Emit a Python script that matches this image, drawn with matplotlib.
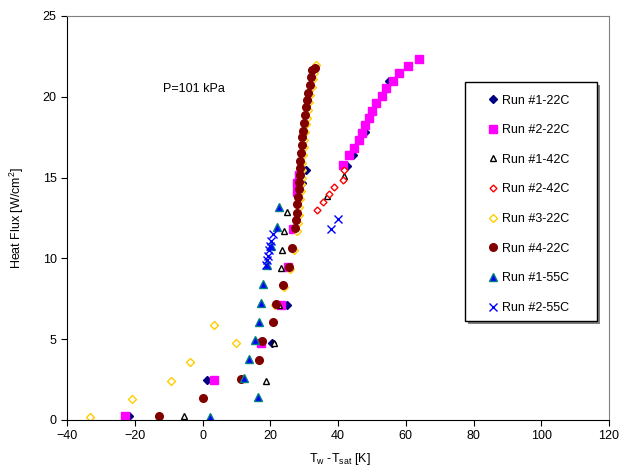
import matplotlib
matplotlib.use("Agg")
from matplotlib import pyplot as plt
from matplotlib.patches import Rectangle

plt.rcParams["font.family"] = ["Liberation Sans", "DejaVu Sans"]
plt.rcParams["mathtext.default"] = "regular"

# Run #1-22C
r1_22_x = [-21.6, 1.3, 20.4, 24.8, 29.3, 30.5, 42.8, 44.3, 48.1, 55.1]
r1_22_y = [0.25, 2.47, 4.78, 7.13, 14.65, 15.5, 15.7, 16.38, 17.8, 21.0]

# Run #2-22C
r2_22_x = [-22.9, 3.5, 17.3, 23.2, 25.3, 26.6, 27.8, 28.0, 28.6,
           41.5, 43.2, 44.7, 46.3, 47.1, 47.9, 49.2, 50.1, 51.2, 52.9,
           54.1, 56.1, 57.9, 60.6, 63.9]
r2_22_y = [0.25, 2.47, 4.78, 7.13, 9.49, 11.8, 14.13, 14.65, 15.16,
           15.75, 16.37, 16.81, 17.33, 17.79, 18.24, 18.67, 19.15, 19.62, 20.07,
           20.53, 21.0, 21.45, 21.92, 22.32]

# Run #1-42C
r1_42_x = [-5.4, 18.7, 21.2, 22.5, 23.2, 23.5, 24.2, 24.9, 36.8, 41.7]
r1_42_y = [0.25, 2.43, 4.78, 7.13, 9.39, 10.52, 11.71, 12.85, 13.86, 15.08]

# Run #2-42C
r2_42_x = [33.8, 35.5, 37.3, 38.8, 41.4, 41.7]
r2_42_y = [13.0, 13.47, 13.96, 14.4, 14.85, 15.44]

# Run #3-22C
r3_22_x = [-33.1, -20.8, -9.3, -3.7, 9.9, 3.5, 21.4, 24.0,
           25.9, 26.9, 27.9, 28.1, 28.4, 28.6, 28.9, 29.1, 29.2, 29.4,
           29.4, 29.5, 29.7, 29.9, 30.0, 30.2, 30.5, 30.8, 31.1, 31.5,
           31.8, 32.2, 32.7, 33.0, 33.6]
r3_22_y = [0.2, 1.3, 2.43, 3.59, 4.75, 5.9, 7.1, 8.25,
           9.35, 10.5, 11.7, 12.2, 12.7, 13.2, 13.7, 14.2, 14.6, 15.0,
           15.5, 15.9, 16.4, 16.9, 17.3, 17.8, 18.3, 18.7, 19.2, 19.7,
           20.1, 20.6, 21.1, 21.5, 21.97]

# Run #4-22C
r4_22_x = [-12.7, 0.2, 11.3, 16.6, 17.6, 20.7, 21.8, 23.7, 25.5, 26.5,
           27.4, 27.5, 27.8, 28.0, 28.3, 28.5, 28.6, 28.8, 28.8, 28.8,
           29.1, 29.3, 29.4, 29.6, 29.9, 30.2, 30.5, 30.9, 31.2, 31.6,
           32.1, 32.4, 33.2]
r4_22_y = [0.25, 1.38, 2.56, 3.73, 4.91, 6.08, 7.2, 8.35, 9.49, 10.66,
           11.88, 12.36, 12.83, 13.35, 13.82, 14.3, 14.75, 15.16, 15.62, 16.05,
           16.54, 17.0, 17.5, 17.9, 18.4, 18.89, 19.35, 19.8, 20.25, 20.75,
           21.24, 21.66, 21.8]

# Run #1-55C
r1_55_x = [2.2, 16.3, 12.2, 13.8, 15.5, 16.7, 17.3, 17.8, 19.1, 20.1, 21.9, 22.7]
r1_55_y = [0.2, 1.40, 2.58, 3.75, 4.93, 6.08, 7.26, 8.42, 9.59, 10.79, 11.96, 13.16]

# Run #2-55C
r2_55_x = [18.7, 18.9, 19.3, 19.7, 19.9, 20.3, 20.9, 37.9, 40.1]
r2_55_y = [9.57, 9.9, 10.15, 10.52, 10.77, 11.1, 11.51, 11.8, 12.42]

W, H = 621, 468
fig = plt.figure(figsize=(W / 100, H / 100), dpi=100)
ax = fig.add_axes([67 / W, 1 - 420 / H, 542 / W, 404 / H])

ax.plot(r1_22_x, r1_22_y, ls="none", marker="D", ms=4, color="#000080", label="Run #1-22C")
ax.plot(r2_22_x, r2_22_y, ls="none", marker="s", ms=6, color="#FF00FF", label="Run #2-22C")
ax.plot(r1_42_x, r1_42_y, ls="none", marker="^", ms=5, mfc="white", mec="black", mew=1,
        label="Run #1-42C")
ax.plot(r2_42_x, r2_42_y, ls="none", marker="D", ms=3.5, mfc="white", mec="#FF0000", mew=1,
        label="Run #2-42C")
ax.plot(r3_22_x, r3_22_y, ls="none", marker="D", ms=4, mfc="white", mec="#FFCC00", mew=1,
        label="Run #3-22C")
ax.plot(r4_22_x, r4_22_y, ls="none", marker="o", ms=5.5, color="#800000", label="Run #4-22C")
ax.plot(r1_55_x, r1_55_y, ls="none", marker="^", ms=5.5, mfc="#0000FF", mec="#008080", mew=1,
        label="Run #1-55C")
ax.plot(r2_55_x, r2_55_y, ls="none", marker="x", ms=5.5, mew=1, color="#0000FF",
        label="Run #2-55C")

ax.set_xlim(-40, 120)
ax.set_ylim(0, 25)
ax.set_xticks(range(-40, 121, 20))
ax.set_yticks(range(0, 26, 5))
ax.tick_params(direction="out", length=4, labelsize=9, top=False, right=False)

ax.spines["left"].set_color("black")
ax.spines["bottom"].set_color("black")
ax.spines["top"].set_color("#808080")
ax.spines["right"].set_color("#808080")

ax.text(-11.6, 20.5, "P=101 kPa", fontsize=9, va="center", ha="left")

fig.text(340 / W, 1 - 459 / H, "T$_{w}$ -T$_{sat}$ [K]", fontsize=9, ha="center", va="center")
fig.text(17 / W, 1 - 218 / H, "Heat Flux [W/cm$^{2}$]", fontsize=9, ha="center",
         va="center", rotation=90)

# legend box with shadow (drawn by hand, Excel style)
ax.add_patch(Rectangle((468 / W, 1 - 324 / H), 132 / W, 239 / H,
                       transform=fig.transFigure, facecolor="#808080",
                       edgecolor="none", zorder=4, clip_on=False))
ax.add_patch(Rectangle((465 / W, 1 - 321 / H), 132 / W, 239 / H,
                       transform=fig.transFigure, facecolor="white",
                       edgecolor="black", lw=1, zorder=5, clip_on=False))

leg = ax.legend(loc="upper left", bbox_to_anchor=(488 / W, 1 - 94.5 / H),
                bbox_transform=fig.transFigure, fontsize=9, frameon=False,
                borderpad=0, labelspacing=1.41, handlelength=0.8, handletextpad=0.3,
                borderaxespad=0, numpoints=1)
leg.set_zorder(6)

fig.savefig("out.png", dpi=100)
